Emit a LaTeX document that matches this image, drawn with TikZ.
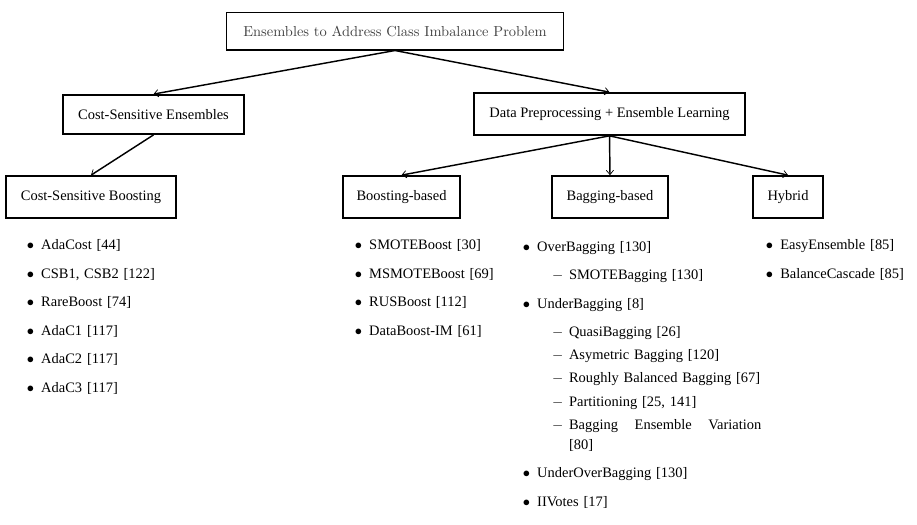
\documentclass[tikz,border=0pt]{standalone}
\usepackage{fontspec}
\setmainfont{Liberation Serif}
\usepackage{enumitem}
\usetikzlibrary{arrows.meta,positioning}

\setlist[itemize,1]{label=$\bullet$, leftmargin=12pt, labelsep=5pt,
  itemsep=5.9pt, topsep=0pt, partopsep=0pt, parsep=0pt}
\setlist[itemize,2]{label=$-$, leftmargin=22pt, labelsep=4pt,
  itemsep=2.3pt, topsep=5.5pt, partopsep=0pt, parsep=0pt}

\begin{document}
\begin{tikzpicture}[
    x=0.0243cm, y=-0.0243cm,
    font=\fontsize{10}{13.8}\selectfont,
    box/.style={draw, line width=1.2pt, minimum height=1.02cm, inner sep=2pt},
    root/.style={draw, line width=0.8pt, minimum width=8.21cm,
                 minimum height=0.92cm, text=black!75,
                 font=\fontsize{10}{12}\fontfamily{lmr}\selectfont},
    arr/.style={-{Straight Barb[length=3pt, width=5pt, line width=0.5pt]},
                line width=1pt},
    list/.style={anchor=base west, inner sep=0pt},
  ]
  \useasboundingbox (0,0) rectangle (917,524);

  % ---- Root ----
  \node[root] (root) at (395,31) {Ensembles to Address Class Imbalance Problem};

  % ---- Second level ----
  \node[box, minimum width=4.40cm, minimum height=0.95cm] (cse) at (153.5,114.5)
    {Cost-Sensitive Ensembles};
  \node[box, minimum width=6.59cm] (dp) at (609.5,114)
    {Data Preprocessing + Ensemble Learning};

  % ---- Third level ----
  \node[box, minimum width=4.13cm] (csb) at (91,197) {Cost-Sensitive Boosting};
  \node[box, minimum width=2.84cm] (boost) at (401.5,197) {Boosting-based};
  \node[box, minimum width=2.82cm] (bag) at (610,197) {Bagging-based};
  \node[box, minimum width=1.70cm] (hyb) at (788,197) {Hybrid};

  % ---- Arrows ----
  \draw[arr] (root.south) -- (cse.north);
  \draw[arr] (root.south) -- (dp.north);
  \draw[arr] (cse.south) -- (csb.north);
  \draw[arr] (dp.south) -- (boost.north);
  \draw[arr] (dp.south) -- (bag.north);
  \draw[arr] (dp.south) -- (hyb.north);

  % ---- Lists ----
  \node[list, text width=130pt] (csblist) at (23.6,230) {%
    \begin{itemize}
      \item AdaCost [44]
      \item CSB1, CSB2 [122]
      \item RareBoost [74]
      \item AdaC1 [117]
      \item AdaC2 [117]
      \item AdaC3 [117]
    \end{itemize}};

  \node[list, text width=130pt] (boostlist) at (351.6,230) {%
    \begin{itemize}
      \item SMOTEBoost [30]
      \item MSMOTEBoost [69]
      \item RUSBoost [112]
      \item DataBoost-IM [61]
    \end{itemize}};

  \node[list, text width=167pt] (baglist) at (519.6,232) {%
    \begin{itemize}
      \item OverBagging [130]
      \begin{itemize}
        \item SMOTEBagging [130]
      \end{itemize}
      \item UnderBagging [8]
      \begin{itemize}
        \item QuasiBagging [26]
        \item Asymetric Bagging [120]
        \item Roughly Balanced Bagging [67]
        \item Partitioning [25, 141]
        \item Bagging\hfill Ensemble\hfill Variation\newline [80]
      \end{itemize}
      \item UnderOverBagging [130]
      \item IIVotes [17]
    \end{itemize}};

  \node[list, text width=100pt] (hyblist) at (762.6,230) {%
    \begin{itemize}
      \item EasyEnsemble [85]
      \item BalanceCascade [85]
    \end{itemize}};

\end{tikzpicture}
\end{document}
